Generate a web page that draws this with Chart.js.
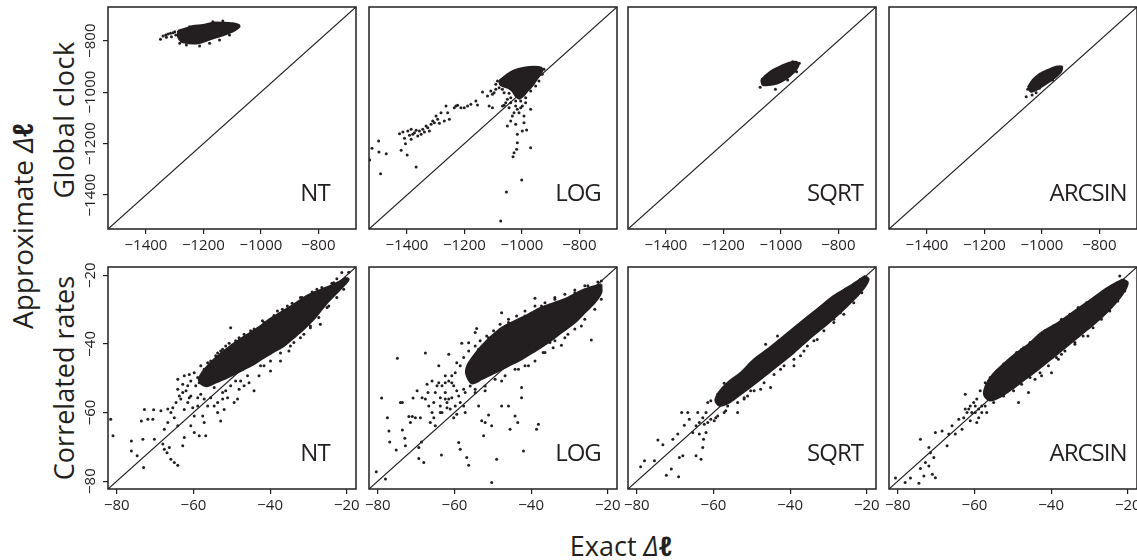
<!DOCTYPE html>
<html>
<head>
<meta charset="utf-8">
<script src="https://cdn.jsdelivr.net/npm/chart.js@4.4.1/dist/chart.umd.min.js"></script>
<style>
  body { margin: 0; background: #fff; }
  #lienzo { position: relative; width: 1137px; height: 560px; overflow: hidden; font-family: 'Open Sans', sans-serif; color: #231f20; }
  #lienzo canvas { position: absolute; }
  .titulo { position: absolute; white-space: nowrap; font-size: 27px; transform: translate(-50%, -50%); }
  .vertical { transform: translate(-50%, -50%) rotate(-90deg); }
</style>
</head>
<body>
<div id="lienzo">
  <div class="titulo vertical" style="left:22px; top:226px; font-size:28px">Approximate <i>Δ<b>ℓ</b></i></div>
  <div class="titulo vertical" id="fila-0" style="left:63px; top:120px; letter-spacing:0.5px"></div>
  <div class="titulo vertical" id="fila-1" style="left:63px; top:378px"></div>
  <div class="titulo" style="left:621px; top:545px">Exact <i>Δ<b>ℓ</b></i></div>
</div>
<script>
// Textos y ejes
const transformaciones = ['NT', 'LOG', 'SQRT', 'ARCSIN']
const filas = ['Global clock', 'Correlated rates']
const rangoReloj = [-1532, -669]
const rangoTasas = [-82.3, -17.6]
const ticksReloj = [-1400, -1200, -1000, -800]
const ticksTasas = [-80, -60, -40, -20]

// Fila superior (reloj global): contorno de la nube densa + puntos sueltos
const relojNTNucleo = [[-1288.3,-761.1],[-1259.2,-751.8],[-1236.3,-742.9],[-1201.7,-739.0],[-1167.0,-730.0],[-1132.4,-730.0],[-1097.7,-732.4],[-1076.9,-739.0],[-1074.5,-745.5],[-1091.8,-761.1],[-1120.6,-774.0],[-1155.3,-786.9],[-1189.9,-800.0],[-1219.0,-810.1],[-1247.8,-810.1],[-1276.6,-803.9],[-1288.3,-784.4]]
const relojNTPuntos = [[-1349.4,-794.6],[-1340.3,-781.7],[-1331.0,-777.8],[-1322.9,-774.0],[-1314.7,-771.4],[-1305.6,-768.9],[-1299.8,-765.0],[-1328.6,-786.9],[-1311.3,-784.4],[-1296.3,-777.8],[-1282.4,-810.1],[-1259.2,-816.7],[-1213.1,-820.6],[-1178.5,-810.1],[-1143.8,-797.3],[-1109.1,-777.8],[-1085.9,-751.8],[-1167.0,-726.1],[-1132.4,-723.4],[-1247.8,-745.5]]

const relojLOGNucleo = [[-1079.3,-956.6],[-1050.4,-930.7],[-1027.3,-915.1],[-992.7,-904.8],[-958.0,-900.9],[-932.6,-904.8],[-929.1,-917.7],[-940.7,-937.2],[-952.2,-956.6],[-963.7,-976.0],[-981.1,-995.5],[-992.7,-1012.3],[-1010.0,-1025.3],[-1023.8,-1012.3],[-1033.1,-995.5],[-1050.4,-982.5],[-1073.5,-973.4]]
const relojLOGPuntos = [[-1529.7,-1263.8],[-1521.6,-1218.4],[-1498.5,-1189.9],[-1497.4,-1232.6],[-1491.6,-1316.9],[-1472.0,-1239.1],[-1420.0,-1226.2],[-1425.8,-1161.4],[-1414.2,-1154.9],[-1408.5,-1179.5],[-1405.0,-1200.2],[-1399.2,-1244.3],[-1396.9,-1151.0],[-1391.1,-1167.8],[-1385.4,-1144.5],[-1385.4,-1183.4],[-1379.6,-1164.0],[-1373.8,-1157.5],[-1368.0,-1148.4],[-1368.0,-1291.0],[-1362.3,-1170.4],[-1356.5,-1151.0],[-1350.7,-1164.0],[-1344.9,-1144.5],[-1339.2,-1154.9],[-1333.4,-1131.6],[-1327.6,-1138.0],[-1321.8,-1151.0],[-1316.0,-1125.1],[-1310.3,-1112.1],[-1304.5,-1118.6],[-1298.7,-1092.7],[-1293.0,-1105.6],[-1287.2,-1121.2],[-1281.4,-1079.7],[-1269.9,-1112.1],[-1264.1,-1053.8],[-1258.3,-1079.7],[-1252.5,-1105.6],[-1235.2,-1060.3],[-1229.4,-1053.8],[-1223.7,-1051.2],[-1212.1,-1060.3],[-1200.6,-1060.3],[-1189.0,-1053.8],[-1177.5,-1047.3],[-1160.1,-1034.4],[-1154.4,-1049.9],[-1137.0,-999.4],[-1119.7,-1014.9],[-1114.0,-1053.8],[-1108.2,-995.5],[-1102.4,-1008.4],[-1096.6,-1002.0],[-1090.8,-989.0],[-1102.4,-1060.3],[-1067.7,-1053.8],[-1062.0,-1051.2],[-1056.2,-1040.8],[-1050.4,-1027.9],[-1044.6,-1060.3],[-1038.9,-1040.8],[-1033.1,-1092.7],[-1027.3,-1079.7],[-1021.5,-1053.8],[-1015.8,-1066.8],[-1010.0,-1079.7],[-1004.2,-1060.3],[-998.4,-1053.8],[-992.7,-1092.7],[-986.9,-1040.8],[-969.5,-1066.8],[-1050.4,-1131.6],[-1038.9,-1112.1],[-1021.5,-1125.1],[-1015.8,-1164.0],[-998.4,-1151.0],[-992.7,-1118.6],[-983.4,-1147.1],[-1015.8,-1196.4],[-1018.1,-1222.3],[-1027.3,-1235.2],[-1030.8,-1250.8],[-969.5,-1215.8],[-1000.7,-1341.5],[-1053.9,-1388.2],[-1073.5,-1500.9],
    [-1085.1,-956.6],[-1090.8,-969.6],[-1079.3,-982.5],[-1067.7,-989.0],[-1062.0,-1002.0],[-1044.6,-1004.6],[-1038.9,-1021.4],[-1021.5,-1034.4],[-1004.2,-1034.4],[-986.9,-1021.4],[-969.5,-995.5],[-952.2,-976.0],[-940.7,-956.6],[-929.1,-930.7],[-923.3,-911.2]]

const relojSQRTNucleo = [[-1068.6,-952.8],[-1051.3,-933.3],[-1028.4,-913.9],[-999.3,-898.3],[-970.5,-885.5],[-945.2,-882.8],[-938.3,-894.4],[-947.3,-913.9],[-964.6,-933.3],[-987.8,-952.8],[-1011.0,-965.6],[-1039.8,-972.2],[-1063.0,-972.2]]
const relojSQRTPuntos = [[-1072.1,-981.2],[-1019.0,-989.0],[-976.4,-952.8],[-945.2,-920.5],[-1063.0,-950.1],[-1045.7,-963.2],[-935.8,-887.9],[-959.1,-881.5],[-981.9,-894.4]]

const relojARCSINNucleo = [[-1049.1,-981.2],[-1031.8,-952.8],[-1008.6,-929.4],[-979.9,-913.9],[-950.9,-901.0],[-930.0,-901.0],[-933.5,-920.5],[-950.9,-939.9],[-974.0,-959.4],[-997.2,-976.1],[-1020.1,-991.6],[-1037.4,-998.2]]
const relojARCSINPuntos = [[-1054.7,-1017.7],[-1033.9,-1011.1],[-1020.1,-1002.1],[-1049.1,-989.0],[-939.3,-907.3],[-962.5,-952.8],[-1008.6,-985.0]]

// Fila inferior (tasas correlacionadas)
const tasasNTNucleo = [[-20.1,-20.7],[-21.7,-21.7],[-24.3,-23.1],[-26.9,-24.3],[-30.4,-26.0],[-33.8,-28.5],[-37.3,-30.9],[-39.9,-32.6],[-42.5,-34.8],[-45.1,-36.7],[-47.7,-38.5],[-50.3,-40.6],[-52.4,-42.3],[-54.6,-44.5],[-56.3,-46.4],[-57.8,-48.4],[-58.6,-50.5],[-57.6,-52.0],[-56.3,-52.3],[-54.6,-51.5],[-52.0,-50.3],[-49.4,-48.9],[-46.8,-47.4],[-44.2,-45.9],[-41.6,-44.0],[-39.0,-42.3],[-36.4,-40.6],[-33.8,-38.2],[-31.2,-35.7],[-28.6,-32.8],[-26.5,-29.9],[-24.7,-27.5],[-22.6,-25.1],[-20.4,-22.6],[-19.5,-21.2]]
const tasasNTPuntos = [[-81.6,-62.0],[-81.0,-66.8],[-76.2,-68.3],[-76.2,-71.2],[-74.7,-72.6],[-73.0,-76.0],[-73.2,-67.8],[-73.6,-62.5],[-72.8,-59.1],[-71.9,-62.0],[-70.6,-62.0],[-70.4,-59.2],[-70.2,-67.8],[-68.5,-59.5],[-68.0,-69.2],[-67.6,-70.7],[-66.9,-71.7],[-66.3,-70.2],[-65.9,-73.6],[-65.0,-74.6],[-64.1,-75.4],[-67.6,-64.9],[-66.7,-62.9],[-65.9,-60.0],[-65.0,-61.5],[-64.1,-63.9],[-63.3,-56.1],[-62.4,-59.1],[-61.5,-57.1],[-60.7,-55.2],[-62.4,-49.3],[-61.1,-48.9],[-64.1,-50.3],[-62.8,-51.8],[-59.8,-48.4],[-58.9,-49.8],[-58.1,-46.4],[-57.2,-47.4],[-56.3,-58.1],[-57.6,-61.0],[-57.2,-62.9],[-59.8,-61.0],[-60.7,-63.9],[-62.4,-67.3],[-62.8,-69.7],[-59.8,-65.8],[-58.5,-66.8],[-56.8,-66.8],[-53.7,-60.0],[-52.9,-62.5],[-52.0,-59.1],[-51.1,-55.7],[-49.4,-57.1],[-48.5,-56.1],[-52.9,-42.1],[-51.6,-40.6],[-49.8,-40.6],[-50.3,-35.3],[-44.2,-53.7],[-42.9,-49.3],[-39.9,-47.9],[-37.3,-45.0],[-33.8,-39.6],[-32.5,-36.2],[-30.4,-34.3],[-28.6,-30.9],[-26.9,-34.3],[-25.6,-28.0],[-23.4,-22.2],[-21.3,-19.2],[-19.5,-19.1],[-55.0,-49.3],[-54.6,-52.7],[-52.4,-54.2],[-47.7,-50.8],[-45.9,-49.3],[-41.6,-46.4],[-35.1,-42.1],[-31.2,-37.2],[-29.5,-35.3],[-24.7,-28.95],[-56.3,-45.5],[-53.7,-42.7],[-48.1,-38.2],[-45.1,-36.2],[-42.0,-33.3],[-38.1,-30.4],[-35.5,-28.95],[-32.1,-26.5],[-27.8,-24.1],
    [-61.5,-52.2],[-60.7,-50.8],[-59.4,-52.2],[-58.5,-51.3],[-57.6,-50.3],[-56.3,-49.8],[-55.5,-51.3],[-61.95,-53.7],[-61.1,-55.7],[-58.9,-55.7],[-58.1,-54.7],[-57.2,-56.1],[-55.5,-55.7],[-54.6,-58.1],[-53.7,-57.1],[-52.4,-56.1],[-51.6,-53.7],[-50.3,-52.2],[-49.0,-50.8],[-48.1,-53.2],[-46.8,-52.2],[-45.5,-51.3],[-58.9,-58.1],[-60.2,-58.6],[-63.7,-55.2],[-64.55,-57.1],[-65.4,-58.6],[-66.7,-59.0],[-64.1,-53.2],[-62.8,-54.2],
    [-55.5,-45.0],[-54.2,-43.5],[-52.4,-41.6],[-50.7,-39.8],[-49.0,-39.1],[-46.8,-37.2],[-44.2,-35.7],[-41.6,-33.8],[-39.0,-31.7],[-36.8,-29.9],[-34.25,-28.2],[-31.65,-26.5],[-29.05,-24.9],[-26.5,-23.6],[-23.9,-22.35],[-22.6,-21.0],
    [-42.5,-46.4],[-39.9,-45.0],[-37.3,-42.7],[-34.7,-40.6],[-32.1,-38.2],[-29.5,-34.8],[-27.3,-32.35],[-25.15,-29.4],[-22.6,-26.5],[-20.8,-24.1]]

const tasasLOGNucleo = [[-21.7,-22.6],[-26.0,-24.1],[-30.4,-26.5],[-33.8,-28.0],[-37.3,-29.4],[-40.7,-31.4],[-44.2,-33.3],[-47.7,-35.3],[-50.3,-37.7],[-52.9,-40.6],[-55.0,-43.5],[-56.5,-46.0],[-57.0,-48.5],[-55.5,-51.5],[-52.9,-50.3],[-49.4,-48.4],[-45.9,-46.4],[-42.5,-44.5],[-39.0,-42.1],[-35.5,-39.6],[-32.1,-36.7],[-28.6,-33.8],[-26.0,-30.9],[-23.4,-28.0],[-21.7,-25.1]]
const tasasLOGPuntos = [[-80.4,-77.3],[-78.0,-79.4],[-79.0,-55.8],[-77.5,-61.5],[-77.1,-65.4],[-76.9,-68.6],[-74.9,-44.2],[-75.2,-70.9],[-74.1,-57.1],[-73.6,-57.1],[-73.6,-65.1],[-72.95,-67.5],[-72.8,-69.7],[-71.9,-61.2],[-71.0,-61.2],[-71.5,-62.9],[-70.8,-55.8],[-70.2,-61.5],[-69.75,-53.7],[-69.3,-70.2],[-69.3,-73.4],[-68.9,-61.5],[-68.6,-68.6],[-68.0,-74.6],[-67.6,-42.7],[-67.15,-51.8],[-66.9,-54.2],[-66.3,-62.9],[-65.85,-60.0],[-65.4,-57.1],[-65.0,-63.9],[-64.1,-51.3],[-64.1,-46.4],[-63.7,-58.1],[-63.4,-72.4],[-63.25,-60.0],[-62.4,-54.2],[-61.95,-57.1],[-61.5,-43.0],[-61.1,-59.0],[-60.7,-51.3],[-60.2,-61.5],[-59.4,-60.5],[-58.9,-68.75],[-58.5,-70.7],[-58.1,-39.8],[-57.6,-53.2],[-57.2,-60.0],[-56.8,-73.1],[-56.3,-75.4],[-56.3,-39.7],[-55.9,-52.3],[-54.6,-36.7],[-54.2,-35.55],[-53.7,-58.1],[-52.9,-62.4],[-52.4,-66.8],[-52.0,-62.9],[-51.1,-60.7],[-50.3,-63.9],[-50.3,-80.4],[-49.0,-73.6],[-47.7,-30.9],[-47.7,-58.1],[-45.9,-58.1],[-45.5,-64.9],[-44.2,-61.0],[-43.5,-62.9],[-42.5,-52.7],[-42.0,-71.2],[-42.5,-55.7],[-39.0,-26.7],[-38.6,-64.9],[-38.1,-63.4],[-35.1,-39.6],[-33.8,-39.1],[-32.1,-40.4],[-31.65,-35.5],[-24.3,-38.9],[-21.7,-21.7],[-26.0,-23.1],[-59.8,-48.4],[-58.5,-46.4],[-53.7,-41.6],[-51.1,-38.2],[-45.9,-33.8],[-41.6,-31.9],[-37.3,-28.95],[-33.8,-27.0],[-28.6,-25.1],[-52.0,-52.3],[-47.7,-50.8],[-43.3,-47.4],[-40.7,-46.4],[-36.4,-42.5],[-30.4,-37.2],[-26.9,-34.8],[-54.6,-54.2],[-61.5,-56.1],[-62.4,-51.3],
    [-59.4,-45.5],[-57.6,-44.0],[-56.3,-42.1],[-54.6,-40.6],[-53.3,-39.1],[-51.6,-37.7],[-49.8,-36.2],[-48.1,-34.3],[-45.9,-32.8],[-43.8,-31.9],[-41.6,-30.4],[-39.0,-28.95],[-36.4,-28.0],[-33.8,-26.5],[-31.2,-25.55],[-28.6,-24.3],[-25.2,-23.1],[-22.6,-21.95],
    [-57.2,-54.2],[-54.6,-53.2],[-52.0,-53.7],[-49.4,-50.3],[-46.8,-49.3],[-44.2,-47.4],[-41.6,-46.4],[-39.0,-45.0],[-36.85,-42.5],[-34.25,-41.1],[-31.2,-38.2],[-28.6,-35.7],[-26.0,-32.8],[-23.4,-29.9],[-21.7,-27.0],
    [-62.4,-49.3],[-60.7,-49.3],[-61.5,-50.8],[-60.2,-52.2],[-59.4,-53.7],[-58.9,-55.2],[-60.7,-55.7],[-62.4,-56.1],[-63.7,-55.7],[-65.0,-54.2],[-64.55,-52.2],[-65.85,-50.8],[-63.25,-52.2],[-58.5,-57.1],[-57.6,-58.1],[-59.8,-58.1],[-61.95,-58.6],[-63.7,-60.0],[-65.4,-61.5],[-66.7,-58.1],[-67.6,-56.1],[-68.45,-55.7]]

const tasasSQRTNucleo = [[-20.4,-20.2],[-24.3,-23.1],[-28.6,-26.0],[-32.95,-29.9],[-37.3,-33.8],[-41.6,-37.7],[-45.9,-41.6],[-49.4,-44.5],[-52.9,-48.4],[-56.3,-51.3],[-58.5,-54.0],[-59.5,-56.5],[-58.5,-58.0],[-56.5,-57.5],[-54.6,-56.1],[-51.1,-53.2],[-47.7,-50.3],[-43.3,-46.4],[-39.0,-42.5],[-34.7,-38.2],[-30.4,-34.3],[-26.0,-29.9],[-21.7,-25.1],[-19.5,-21.2]]
const tasasSQRTPuntos = [[-79.0,-75.8],[-78.0,-74.1],[-75.4,-74.1],[-74.5,-68.0],[-73.2,-69.4],[-72.3,-78.3],[-71.0,-76.5],[-70.6,-67.8],[-69.1,-78.7],[-68.9,-73.1],[-68.3,-60.0],[-69.3,-66.3],[-68.0,-72.6],[-67.6,-63.7],[-66.7,-60.0],[-66.3,-62.0],[-65.4,-65.8],[-64.55,-72.6],[-64.1,-60.0],[-63.7,-66.3],[-63.25,-73.6],[-62.8,-70.2],[-62.6,-67.8],[-61.95,-65.8],[-61.5,-62.9],[-60.7,-62.0],[-58.9,-61.0],[-57.2,-60.0],[-56.3,-58.1],[-57.2,-54.2],[-55.5,-52.3],[-53.7,-60.0],[-52.0,-56.1],[-51.1,-55.2],[-50.3,-53.7],[-47.7,-53.2],[-45.1,-52.7],[-45.9,-48.4],[-42.5,-47.4],[-39.0,-46.4],[-37.3,-43.5],[-35.5,-40.6],[-32.95,-38.7],[-28.6,-32.8],[-26.9,-30.9],[-46.4,-40.1],[-43.3,-37.7],[-57.2,-51.5],[-61.5,-57.1],[-33.8,-30.9],[-30.4,-28.0],
    [-60.7,-56.6],[-58.9,-54.7],[-57.2,-52.7],[-55.0,-50.8],[-52.9,-49.3],[-51.1,-47.4],[-49.0,-45.45],[-46.8,-43.5],[-45.1,-41.6],[-42.9,-39.1],[-40.7,-37.2],[-38.6,-35.3],[-36.4,-33.3],[-34.25,-31.4],[-32.1,-29.4],[-29.9,-27.5],[-27.75,-26.0],[-25.6,-24.1],[-23.4,-22.6],[-21.7,-21.2],
    [-59.4,-61.5],[-56.8,-59.5],[-53.7,-57.1],[-52.0,-55.7],[-49.4,-53.7],[-46.8,-51.3],[-44.2,-48.9],[-41.6,-46.4],[-39.0,-44.5],[-36.4,-42.1],[-33.8,-39.1],[-31.2,-36.2],[-28.6,-33.8],[-26.0,-31.4],[-23.4,-28.0],[-21.3,-25.1],
    [-62.8,-61.5],[-61.95,-60.0],[-63.7,-62.9],[-64.55,-63.9],[-62.4,-63.4],[-59.8,-62.4]]

const tasasARCSINNucleo = [[-21.3,-21.2],[-25.2,-23.6],[-29.5,-27.0],[-33.8,-30.4],[-38.1,-33.8],[-42.5,-36.7],[-45.9,-40.1],[-49.4,-43.0],[-52.9,-46.4],[-55.5,-49.3],[-57.0,-52.0],[-57.5,-54.8],[-56.0,-56.5],[-53.7,-55.7],[-50.3,-53.2],[-46.8,-50.3],[-43.3,-47.4],[-39.0,-43.5],[-34.7,-39.6],[-30.4,-35.7],[-26.0,-31.4],[-21.7,-26.0],[-20.0,-22.2]]
const tasasARCSINPuntos = [[-80.6,-79.1],[-78.1,-80.4],[-76.7,-79.1],[-74.5,-80.6],[-74.1,-76.3],[-73.2,-78.5],[-72.8,-74.6],[-71.9,-75.6],[-71.0,-78.0],[-70.2,-79.0],[-74.1,-67.8],[-71.9,-70.2],[-71.5,-71.7],[-70.6,-73.1],[-70.2,-65.8],[-68.45,-65.4],[-67.15,-69.7],[-66.7,-66.3],[-65.85,-63.9],[-65.0,-66.3],[-64.1,-62.0],[-63.25,-64.9],[-62.4,-59.0],[-62.4,-54.7],[-61.1,-62.4],[-60.7,-60.0],[-59.4,-62.9],[-58.9,-61.5],[-58.1,-58.1],[-56.8,-60.0],[-56.3,-54.7],[-54.2,-55.7],[-52.0,-51.3],[-48.5,-57.1],[-45.9,-54.2],[-44.2,-50.3],[-42.5,-49.3],[-39.9,-48.4],[-38.1,-44.5],[-37.3,-43.0],[-33.8,-39.6],[-30.4,-37.7],[-29.5,-31.9],[-25.2,-28.0],[-22.6,-24.1],[-21.7,-22.6],[-43.3,-37.7],[-47.7,-41.6],[-53.7,-49.3],[-56.3,-50.8],[-59.8,-58.1],[-61.5,-59.0],[-22.1,-20.2],
    [-58.5,-53.7],[-57.2,-51.3],[-55.9,-49.8],[-54.2,-47.9],[-52.4,-45.9],[-50.7,-44.5],[-49.0,-42.5],[-47.2,-41.1],[-45.5,-39.6],[-43.8,-38.2],[-41.6,-36.2],[-39.4,-34.8],[-37.3,-32.8],[-35.1,-31.4],[-32.95,-29.4],[-30.8,-28.0],[-28.6,-26.5],[-26.5,-24.9],[-24.3,-23.3],[-22.6,-22.15],
    [-57.2,-58.1],[-55.0,-57.1],[-52.4,-55.2],[-49.8,-53.7],[-47.7,-51.8],[-45.5,-49.8],[-42.9,-48.4],[-40.7,-46.4],[-38.6,-44.0],[-36.4,-42.1],[-33.8,-40.1],[-31.65,-37.7],[-29.05,-35.3],[-26.9,-32.8],[-24.7,-30.4],[-22.6,-27.5],[-20.8,-24.6],
    [-60.2,-57.1],[-59.4,-56.1],[-61.1,-58.1],[-58.9,-59.0],[-58.1,-60.0],[-59.8,-60.0],[-61.95,-60.0],[-62.8,-61.5]]

// Posición de cada panel en la página
const tinta = '#231f20'
const izquierdas = [108, 369, 628, 889]
const arribas = [7, 267]
const anchoPanel = 248
const altoPanel = 222
const centroEtiqueta = [207, 209, 207, 199]

const paneles = [
    [relojNTNucleo, relojNTPuntos], [relojLOGNucleo, relojLOGPuntos], [relojSQRTNucleo, relojSQRTPuntos], [relojARCSINNucleo, relojARCSINPuntos],
    [tasasNTNucleo, tasasNTPuntos], [tasasLOGNucleo, tasasLOGPuntos], [tasasSQRTNucleo, tasasSQRTPuntos], [tasasARCSINNucleo, tasasARCSINPuntos]
]

const aXY = lista => lista.map(([x, y]) => ({ x, y }))
const menos = v => '−' + Math.abs(v)

filas.forEach((t, i) => { document.querySelector('#fila-' + i).textContent = t })

// marco del panel, etiqueta de transformación y números del eje y
const marco = {
    id: 'marco',
    afterDraw(chart, args, opts) {
        const { ctx, chartArea: a } = chart
        ctx.save()
        ctx.strokeStyle = tinta
        ctx.lineWidth = 1.5
        ctx.strokeRect(a.left, a.top, a.right - a.left, a.bottom - a.top)
        ctx.fillStyle = tinta
        ctx.textAlign = 'center'
        ctx.textBaseline = 'middle'
        ctx.font = '24px "Open Sans"'
        ctx.letterSpacing = '-1px'
        ctx.fillText(opts.etiqueta, a.left + opts.dx, a.top + 187)
        ctx.letterSpacing = '0px'
        if (opts.ticks) {
            const ejeY = chart.scales.y
            ctx.font = '15px "Open Sans"'
            opts.ticks.forEach(v => {
                ctx.save()
                ctx.translate(a.left - 17, ejeY.getPixelForValue(v))
                ctx.rotate(-Math.PI / 2)
                ctx.fillText(menos(v), 0, 0)
                ctx.restore()
            })
        }
        ctx.restore()
    }
}

const lienzo = document.querySelector('#lienzo')

paneles.forEach(([nucleo, puntos], i) => {
    const fila = Math.floor(i / 4)
    const col = i % 4
    const rango = fila === 0 ? rangoReloj : rangoTasas
    const ticks = fila === 0 ? ticksReloj : ticksTasas

    const canvas = document.createElement('canvas')
    canvas.width = 40 + anchoPanel + 4
    canvas.height = 4 + altoPanel + 34
    canvas.style.left = (izquierdas[col] - 40) + 'px'
    canvas.style.top = (arribas[fila] - 4) + 'px'
    lienzo.appendChild(canvas)

    const marcas = { drawOnChartArea: false, drawTicks: true, tickLength: 5, color: tinta, lineWidth: 1.2 }

    new Chart(canvas, {
        type: 'scatter',
        data: {
            datasets: [{
                type: 'line',
                data: aXY([[rango[0], rango[0]], [rango[1], rango[1]]]),
                borderColor: tinta,
                borderWidth: 1.2,
                pointRadius: 0,
                clip: 0
            }, {
                data: aXY(puntos),
                backgroundColor: tinta,
                borderWidth: 0,
                pointRadius: 1.5,
                clip: 0
            }, {
                type: 'line',
                data: aXY([...nucleo, nucleo[0]]),
                borderColor: tinta,
                backgroundColor: tinta,
                borderWidth: 2,
                borderJoinStyle: 'round',
                pointRadius: 0,
                tension: 0.3,
                fill: 'shape',
                clip: 0
            }]
        },
        options: {
            responsive: false,
            animation: false,
            events: [],
            layout: { autoPadding: false, padding: { top: 4, right: 4, left: 0, bottom: 0 } },
            plugins: {
                legend: { display: false },
                tooltip: { enabled: false },
                marco: { etiqueta: transformaciones[col], dx: centroEtiqueta[col], ticks: col === 0 ? ticks : null }
            },
            scales: {
                x: {
                    type: 'linear', min: rango[0], max: rango[1],
                    afterBuildTicks: s => { s.ticks = ticks.map(v => ({ value: v })) },
                    afterFit: s => { s.height = 34; s.paddingLeft = 0; s.paddingRight = 0 },
                    border: { display: false },
                    grid: marcas,
                    ticks: { autoSkip: false, maxRotation: 0, padding: 3, color: tinta, font: { family: 'Open Sans', size: 15 }, callback: menos }
                },
                y: {
                    type: 'linear', min: rango[0], max: rango[1],
                    afterBuildTicks: s => { s.ticks = ticks.map(v => ({ value: v })) },
                    afterFit: s => { s.width = 40; s.paddingTop = 0; s.paddingBottom = 0 },
                    border: { display: false },
                    grid: col === 0 ? marcas : { display: false },
                    ticks: { display: false }
                }
            }
        },
        plugins: [marco]
    })
})
</script>
</body>
</html>
